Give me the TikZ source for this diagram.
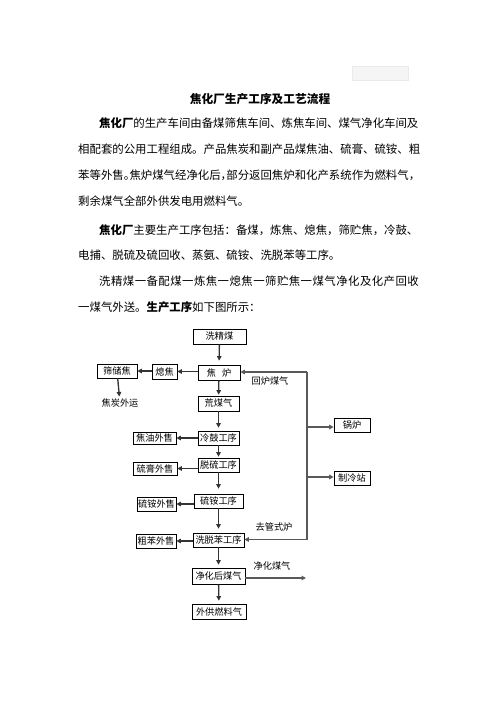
\documentclass[tikz,border=0pt]{standalone}
\usepackage{fontspec}
\setmainfont{Noto Sans CJK SC}
\usetikzlibrary{arrows.meta}
\newcommand\hpunct[1]{\makebox[0.5em][l]{#1}}
\begin{document}
\begin{tikzpicture}[x=1pt,y=-1pt,
  box/.style={draw=black, line width=0.7pt, inner sep=0pt, font=\fontsize{9.2}{10}\selectfont},
  arr/.style={line width=1.3pt, draw=black!80, -{Triangle[length=4.5pt,width=4.5pt]}},
  feed/.style={line width=1.2pt, draw=black!65},
  feedarr/.style={feed, -{Triangle[length=4.5pt,width=4.5pt]}},
  lbl/.style={inner sep=0pt, font=\fontsize{9.2}{10}\selectfont},
  body/.style={inner sep=0pt, anchor=west, font=\fontsize{11.4}{12}\selectfont}]
\useasboundingbox (0,0) rectangle (496,702);
\fill[white] (0,0) rectangle (496,702);
\node[draw=black!8, fill=black!4, minimum width=56pt, minimum height=14pt, inner sep=0pt] (mark) at (380,73) {};

% text
\node[inner sep=0pt, font=\fontsize{11.7}{12}\selectfont\bfseries] (title) at (260,99) {焦化厂生产工序及工艺流程};
\node[body] (p1) at (99,123) {\textbf{焦化厂}的生产车间由备煤筛焦车间、炼焦车间、煤气净化车间及};
\node[body] (p2) at (78,149) {相配套的公用工程组成。产品焦炭和副产品煤焦油、硫膏、硫铵、粗};
\node[body] (p3) at (78,175) {苯等外售\hpunct{。}焦炉煤气经净化后\hpunct{，}部分返回焦炉和化产系统作为燃料气，};
\node[body] (p4) at (78,201) {剩余煤气全部外供发电用燃料气。};
\node[body] (p5) at (99,230) {\textbf{焦化厂}主要生产工序包括：备煤，炼焦、熄焦，筛贮焦，冷鼓、};
\node[body] (p6) at (78,255) {电捕、脱硫及硫回收、蒸氨、硫铵、洗脱苯等工序。};
\node[body] (p7) at (99,281) {\addfontfeature{LetterSpace=4}洗精煤一备配煤一炼焦一熄焦一筛贮焦一煤气净化及化产回收};
\node[body] (p8) at (78,307) {一煤气外送。\textbf{生产工序}如下图所示：};

% boxes
\node[box, minimum width=53pt, minimum height=15pt] (jjm) at (219.5,336.5) {洗精煤};
\node[box, minimum width=42pt, minimum height=15pt] (jl) at (219,372.5) {焦\hspace{6pt}炉};
\node[box, minimum width=25pt, minimum height=15pt] (xj) at (164.5,371.5) {熄焦};
\node[box, minimum width=40pt, minimum height=14pt] (scj) at (117,371) {筛储焦};
\node[lbl] (jtwy) at (120,403) {焦炭外运};
\node[box, minimum width=41pt, minimum height=15pt] (hmq) at (218.5,403.5) {荒煤气};
\node[box, minimum width=41pt, minimum height=14pt] (lg) at (218.5,438) {冷鼓工序};
\node[box, minimum width=43pt, minimum height=12pt] (jy) at (154.5,438) {焦油外售};
\node[box, minimum width=41pt, minimum height=14pt] (tl) at (218.5,465) {脱硫工序};
\node[box, minimum width=44pt, minimum height=13pt] (sg) at (155,468.5) {硫膏外售};
\node[box, minimum width=49pt, minimum height=14pt] (la) at (218.5,501) {硫铵工序};
\node[box, minimum width=39pt, minimum height=14pt] (sa) at (156.5,504) {硫铵外售};
\node[box, minimum width=51pt, minimum height=14pt] (xtb) at (218.5,540) {洗脱苯工序};
\node[box, minimum width=40pt, minimum height=14pt] (cb) at (156,541) {粗苯外售};
\node[box, minimum width=53pt, minimum height=16pt] (jhh) at (218.5,576) {净化后煤气};
\node[box, minimum width=54pt, minimum height=15pt] (wg) at (219,611.5) {外供燃料气};
\node[box, minimum width=36pt, minimum height=14pt] (gl) at (352,425) {锅炉};
\node[box, minimum width=36pt, minimum height=14pt] (zl) at (352,478) {制冷站};

\node[lbl] (hlmq) at (270,381) {回炉煤气};
\node[lbl] (qgsl) at (274,527) {去管式炉};
\node[lbl] (jhmq) at (272,566) {净化煤气};

% main chain
\draw[arr, shorten >=4pt] (jjm) -- (jl);
\draw[arr, shorten >=1pt] (jl) -- (hmq);
\draw[arr, shorten >=3pt] (hmq) -- (lg);
\draw[arr, shorten >=1pt] (lg) -- (tl);
\draw[arr, shorten >=5pt] (tl) -- (la);
\draw[arr, shorten >=4pt] (la) -- (xtb);
\draw[arr, shorten >=3pt] (xtb) -- (jhh);
\draw[arr, shorten >=3pt] (jhh) -- (wg);

% side outputs
\draw[arr] (jl.west |- xj.east) -- (xj.east);
\draw[arr] (xj.west |- scj.east) -- (scj.east);
\draw[arr, shorten >=2pt] (scj) -- (jtwy);
\draw[arr] (lg.west |- jy.east) -- (jy.east);
\draw[arr] (tl.west |- sg.east) -- (sg.east);
\draw[arr] (la.west |- sa.east) -- (sa.east);
\draw[arr] (xtb.west |- cb.east) -- (cb.east);

% return gas
\coordinate (v1) at (307,372);
\coordinate (v2) at (307,539.5);
\coordinate (b1) at (307,427);
\coordinate (b2) at (307,477);
\coordinate (jend) at (306,578);
\draw[feed] (v1) -- (v2);
\draw[feedarr] (v1) -- (v1 -| jl.east);
\draw[feedarr] (v2) -- (v2 -| xtb.east);
\draw[feedarr] (b1) -- (b1 -| gl.west);
\draw[feedarr] (b2) -- (b2 -| zl.west);
\draw[feedarr] (jhh.east |- jend) -- (jend);
\end{tikzpicture}
\end{document}
